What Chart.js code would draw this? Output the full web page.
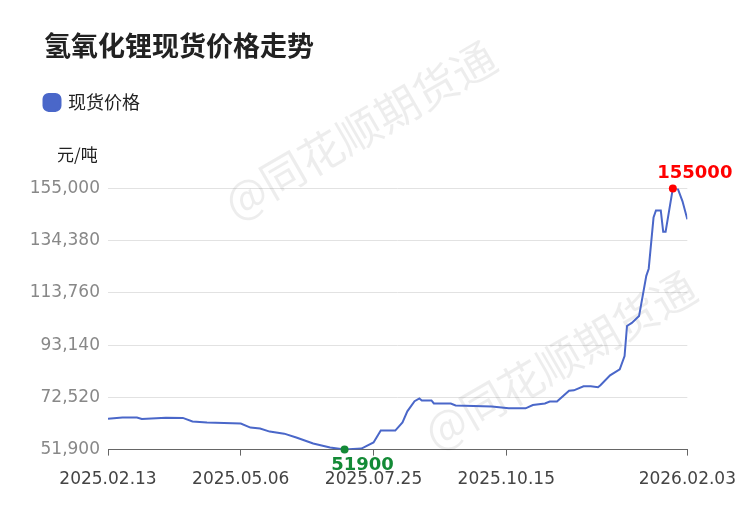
<!DOCTYPE html>
<html lang="zh">
<head>
  <meta charset="UTF-8">
  <title>氢氧化锂现货价格走势</title>
  <script src="https://cdn.jsdelivr.net/npm/chart.js"></script>
  <style>
    body { margin: 0; background: #fff; }
  </style>
</head>
<body>
<canvas id="c" width="750" height="510"></canvas>
<script>
  // trading-day index and price
  const dayIndex = [0,6,12,14,24,31,35,41,55,59,63,67,73,78,85,92,98,105,110,113,119,122,124,127,129,130,134,135,142,144,159,166,173,176,181,183,186,191,193,197,200,203,204,208,212,214,215,217,220,223,224,226,227,229,230,231,234,236,238,240];
  const prices = [64100,64600,64600,64000,64500,64400,63000,62600,62200,60600,60200,59000,58200,56700,54300,52700,51900,52300,54700,59400,59400,62600,67000,71000,72100,71300,71300,70100,70100,69300,68900,68200,68200,69500,70100,70900,70900,75100,75300,76900,76900,76500,77300,81200,83600,88800,100700,101900,104600,120500,123300,143500,146300,146300,137900,137900,155000,155000,149900,142800];
  const tickIndex = [0, 55, 110, 165, 240];
  const tickLabels = ['2025.02.13', '2025.05.06', '2025.07.25', '2025.10.15', '2026.02.03'];
  const yTicks = [51900, 72520, 93140, 113760, 134380, 155000];

  const points = dayIndex.map((d, i) => ({ x: d, y: prices[i] }));

  const extras = {
    id: 'extras',
    beforeInit(chart) {
      // extra room under the legend for the unit label
      const fit = chart.legend.fit;
      chart.legend.fit = function () { fit.call(this); this.height += 67; };
    },
    afterLayout(chart) {
      // indent title and legend
      chart.titleBlock.left += 44;
      chart.legend.left += 41;
      if (chart.legend.adjustHitBoxes) chart.legend.adjustHitBoxes();
    },
    beforeDatasetsDraw(chart) {
      const ctx = chart.ctx;
      ctx.save();
      ctx.fillStyle = 'rgba(0,0,0,0.07)';
      ctx.font = '44px "Noto Sans CJK SC"';
      [[360, 130], [560, 360]].forEach(([x, y]) => {
        ctx.save();
        ctx.translate(x, y);
        ctx.rotate(-Math.PI / 6);
        ctx.textAlign = 'center';
        ctx.textBaseline = 'middle';
        ctx.fillText('@同花顺期货通', 0, 0);
        ctx.restore();
      });
      ctx.restore();
    },
    afterDatasetsDraw(chart) {
      const ctx = chart.ctx;
      const xs = chart.scales.x, ys = chart.scales.y;
      ctx.save();
      ctx.fillStyle = '#222';
      ctx.font = '17px "Noto Sans CJK SC"';
      ctx.textAlign = 'left';
      ctx.textBaseline = 'middle';
      ctx.fillText('元/吨', 57, 155);

      const maxV = Math.max(...prices), minV = Math.min(...prices);
      const iMax = prices.indexOf(maxV), iMin = prices.indexOf(minV);
      const mark = (i, color, dy) => {
        const px = xs.getPixelForValue(dayIndex[i]), py = ys.getPixelForValue(prices[i]);
        ctx.fillStyle = color;
        ctx.beginPath(); ctx.arc(px, py, 4, 0, Math.PI * 2); ctx.fill();
        ctx.font = 'bold 18px "DejaVu Sans"';
        ctx.textAlign = 'center';
        ctx.fillText(String(prices[i]), px + (dy < 0 ? 22 : 18), py + dy);
      };
      mark(iMax, '#ff0000', -15);
      mark(iMin, '#138a36', 16);
      ctx.restore();
    }
  };

  new Chart(document.getElementById('c'), {
    type: 'line',
    data: {
      datasets: [{
        label: '现货价格',
        data: points,
        borderColor: '#4a67c9',
        backgroundColor: '#4a67c9',
        borderWidth: 2,
        pointRadius: 0,
        tension: 0
      }]
    },
    options: {
      responsive: false,
      animation: false,
      layout: { padding: { left: 0, right: 0, top: 10, bottom: 6 } },
      plugins: {
        title: {
          display: true, text: '氢氧化锂现货价格走势', align: 'start', color: '#222',
          font: { size: 27, weight: 'bold', family: '"Noto Sans CJK SC"' },
          padding: { top: 20, bottom: 27 }, fullSize: true
        },
        legend: {
          align: 'start',
          labels: {
            usePointStyle: true, pointStyle: 'rectRounded', boxWidth: 14, boxHeight: 14,
            color: '#222', font: { size: 18, family: '"Noto Sans CJK SC"' }, padding: 4
          }
        },
        tooltip: { enabled: false }
      },
      scales: {
        x: {
          type: 'linear', min: 0, max: 240,
          afterBuildTicks: s => { s.ticks = tickIndex.map(v => ({ value: v })); },
          ticks: {
            callback: v => tickLabels[tickIndex.indexOf(v)],
            color: '#444', font: { size: 17, family: '"DejaVu Sans"' }, maxRotation: 0, padding: 14
          },
          grid: { drawOnChartArea: false, color: '#666', tickLength: 6 },
          border: { color: '#666' }
        },
        y: {
          min: 51900, max: 155000,
          afterBuildTicks: s => { s.ticks = yTicks.map(v => ({ value: v })); },
          afterFit: s => { s.width = 108; },
          ticks: {
            callback: v => v.toLocaleString('en-US'),
            color: '#888', font: { size: 17, family: '"DejaVu Sans"' }, padding: 8
          },
          grid: { color: '#e2e2e2', drawTicks: false },
          border: { display: false }
        }
      }
    },
    plugins: [extras]
  });
</script>
</body>
</html>
